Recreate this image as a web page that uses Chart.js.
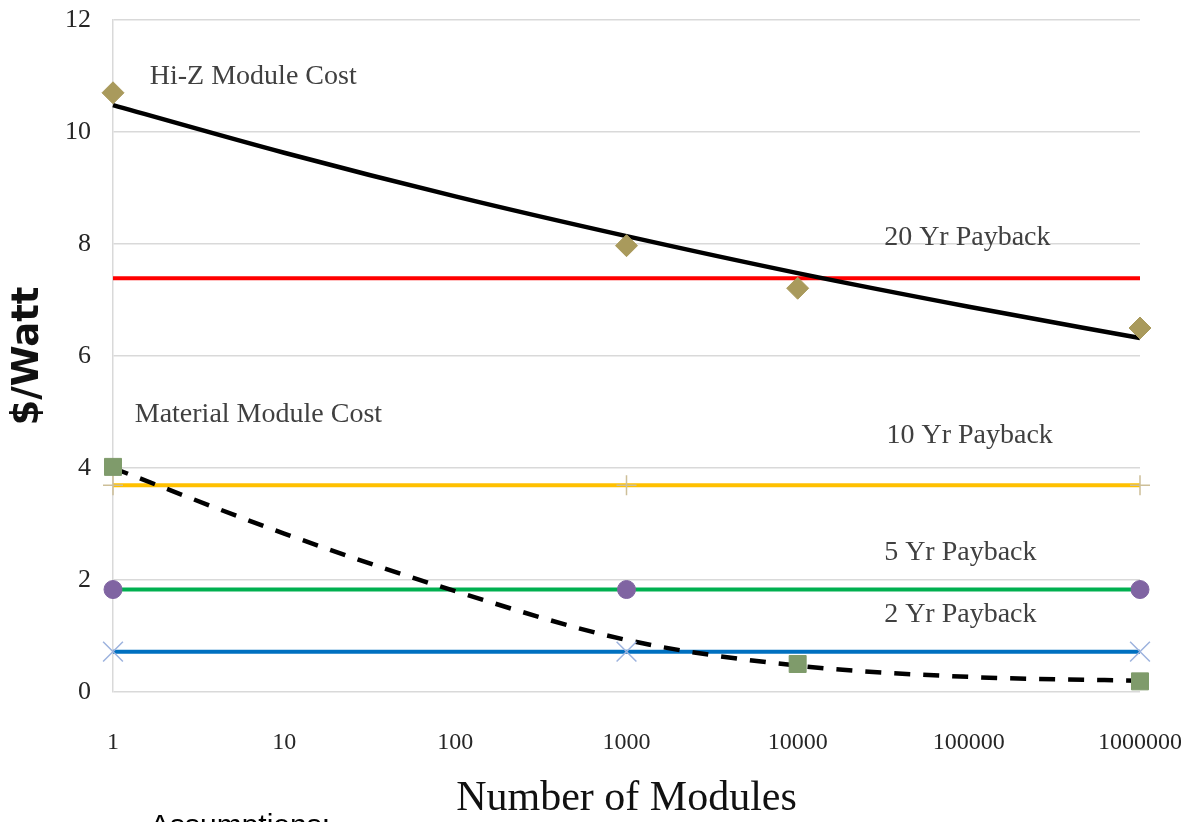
<!DOCTYPE html>
<html>
<head>
<meta charset="utf-8">
<script src="https://cdn.jsdelivr.net/npm/chart.js@4"></script>
<style>
  html, body { margin: 0; padding: 0; background: #fff; overflow: hidden; }
  #wrap { width: 1181px; height: 822px; position: relative; }
</style>
</head>
<body>
<div id="wrap"><canvas id="grafica" width="1181" height="822"></canvas></div>
<script>
// --- datos ---
const modules = [1, 10, 100, 1000, 10000, 100000, 1000000];
const tickVals = [1, 10, 100, 1000, 10000, 100000, 1000000];

const hiZX = [1, 1000, 10000, 1000000];
const hiZCost = [10.7, 7.97, 7.21, 6.5];
const hiZTrend = [10.48, 9.63, 8.85, 8.14, 7.48, 6.88, 6.32];

const materialX = [1, 10000, 1000000];
const materialCost = [4.02, 0.5, 0.19];
const materialTrend = [4.0, 2.83, 1.8, 0.93, 0.47, 0.27, 0.2];

const paybackX = [1, 1000, 1000000];
const payback20 = [7.39, 7.39, 7.39];
const payback10 = [3.69, 3.69, 3.69];
const payback5 = [1.83, 1.83, 1.83];
const payback2 = [0.72, 0.72, 0.72];

// textos dentro del área (anclados en coordenadas de datos)
const notes = ['Hi-Z Module Cost', '20 Yr Payback', 'Material Module Cost', '10 Yr Payback', '5 Yr Payback', '2 Yr Payback'];
const noteAtX = [1.64, 32000, 1.34, 33000, 32000, 32000];
const noteAtY = [10.98, 8.12, 4.95, 4.57, 2.48, 1.39];

const SERIF = '"Liberation Serif", "DejaVu Serif", serif';

const pts = (xs, ys) => xs.map((x, i) => ({ x: x, y: ys[i] }));

const notesPlugin = {
    id: 'notes',
    afterDatasetsDraw(chart) {
        const { ctx, scales } = chart;
        ctx.save();
        ctx.fillStyle = '#404040';
        ctx.font = '28px ' + SERIF;
        ctx.textBaseline = 'middle';
        ctx.textAlign = 'left';
        notes.forEach((t, i) => {
            ctx.fillText(t, scales.x.getPixelForValue(noteAtX[i]), scales.y.getPixelForValue(noteAtY[i]));
        });
        // texto cortado al pie de la figura
        ctx.fillStyle = '#000';
        ctx.font = '30px "Liberation Sans", Arial, sans-serif';
        ctx.textBaseline = 'alphabetic';
        ctx.fillText('Assumptions:', 150, 835);
        ctx.restore();
    }
};

function lineSet(label, xs, ys, color, extra) {
    return Object.assign({
        label: label,
        data: pts(xs, ys),
        borderColor: color,
        borderWidth: 4,
        pointRadius: 0,
        fill: false,
        tension: 0,
        clip: false
    }, extra || {});
}

function markerSet(label, xs, ys, style, radius, fillColor, strokeColor, bw) {
    return {
        label: label,
        data: pts(xs, ys),
        showLine: false,
        pointStyle: style,
        pointRadius: radius,
        pointBackgroundColor: fillColor,
        pointBorderColor: strokeColor,
        pointBorderWidth: bw,
        clip: false
    };
}

const ctx = document.getElementById('grafica').getContext('2d');
new Chart(ctx, {
    type: 'line',
    data: {
        datasets: [
            markerSet('Hi-Z Module Cost', hiZX, hiZCost, 'rectRot', 11, '#A99A5C', '#A99A5C', 1),
            markerSet('Material Module Cost', materialX, materialCost, 'rect', 12, '#7F9B6B', '#7F9B6B', 1),
            markerSet('5 Yr marks', paybackX, payback5, 'circle', 9, '#8064A2', '#8064A2', 1),
            markerSet('2 Yr marks', paybackX, payback2, 'crossRot', 14, 'rgba(0,0,0,0)', '#9DB3DE', 1.5),
            markerSet('10 Yr marks', paybackX, payback10, 'cross', 10, 'rgba(0,0,0,0)', '#CDBF98', 1.5),
            lineSet('Hi-Z trend', modules, hiZTrend, '#000000', { cubicInterpolationMode: 'monotone', borderWidth: 4.5 }),
            lineSet('Material trend', modules, materialTrend, '#000000', { cubicInterpolationMode: 'monotone', borderDash: [16, 13], borderWidth: 4.5 }),
            lineSet('20 Yr Payback', paybackX, payback20, '#FF0000'),
            lineSet('10 Yr Payback', paybackX, payback10, '#FFC000'),
            lineSet('5 Yr Payback', paybackX, payback5, '#00B050'),
            lineSet('2 Yr Payback', paybackX, payback2, '#0070C0')
        ]
    },
    options: {
        responsive: false,
        animation: false,
        events: [],
        layout: { padding: { top: 20, right: 41, left: 0, bottom: 0 } },
        plugins: {
            legend: { display: false },
            tooltip: { enabled: false }
        },
        scales: {
            x: {
                type: 'logarithmic',
                min: 1,
                max: 1000000,
                afterBuildTicks: (scale) => { scale.ticks = tickVals.map(v => ({ value: v })); },
                afterFit: (scale) => {
                    scale.height = 130;
                    scale.paddingLeft = 0;
                    scale.paddingRight = 0;
                },
                grid: { display: false, drawTicks: false },
                border: { display: false },
                ticks: {
                    autoSkip: false,
                    maxRotation: 0,
                    padding: 36,
                    color: '#262626',
                    font: { family: SERIF, size: 24 },
                    callback: (v) => String(v)
                },
                title: {
                    display: true,
                    text: 'Number of Modules',
                    color: '#111',
                    font: { family: SERIF, size: 42 },
                    padding: { top: 0, bottom: -2 }
                }
            },
            y: {
                min: 0,
                max: 12,
                afterFit: (scale) => {
                    scale.width = 113;
                    scale.paddingTop = 0;
                    scale.paddingBottom = 0;
                },
                grid: { color: '#D9D9D9', lineWidth: 1.5, drawTicks: false },
                border: { display: true, color: '#D9D9D9', width: 1.5 },
                ticks: {
                    stepSize: 2,
                    padding: 22,
                    color: '#262626',
                    font: { family: SERIF, size: 26 }
                },
                title: {
                    display: true,
                    text: '$/Watt',
                    color: '#111',
                    font: { family: '"DejaVu Sans", sans-serif', size: 37, weight: 'bold' },
                    padding: { top: 6, bottom: 0 }
                }
            }
        }
    },
    plugins: [notesPlugin]
});
</script>
</body>
</html>
